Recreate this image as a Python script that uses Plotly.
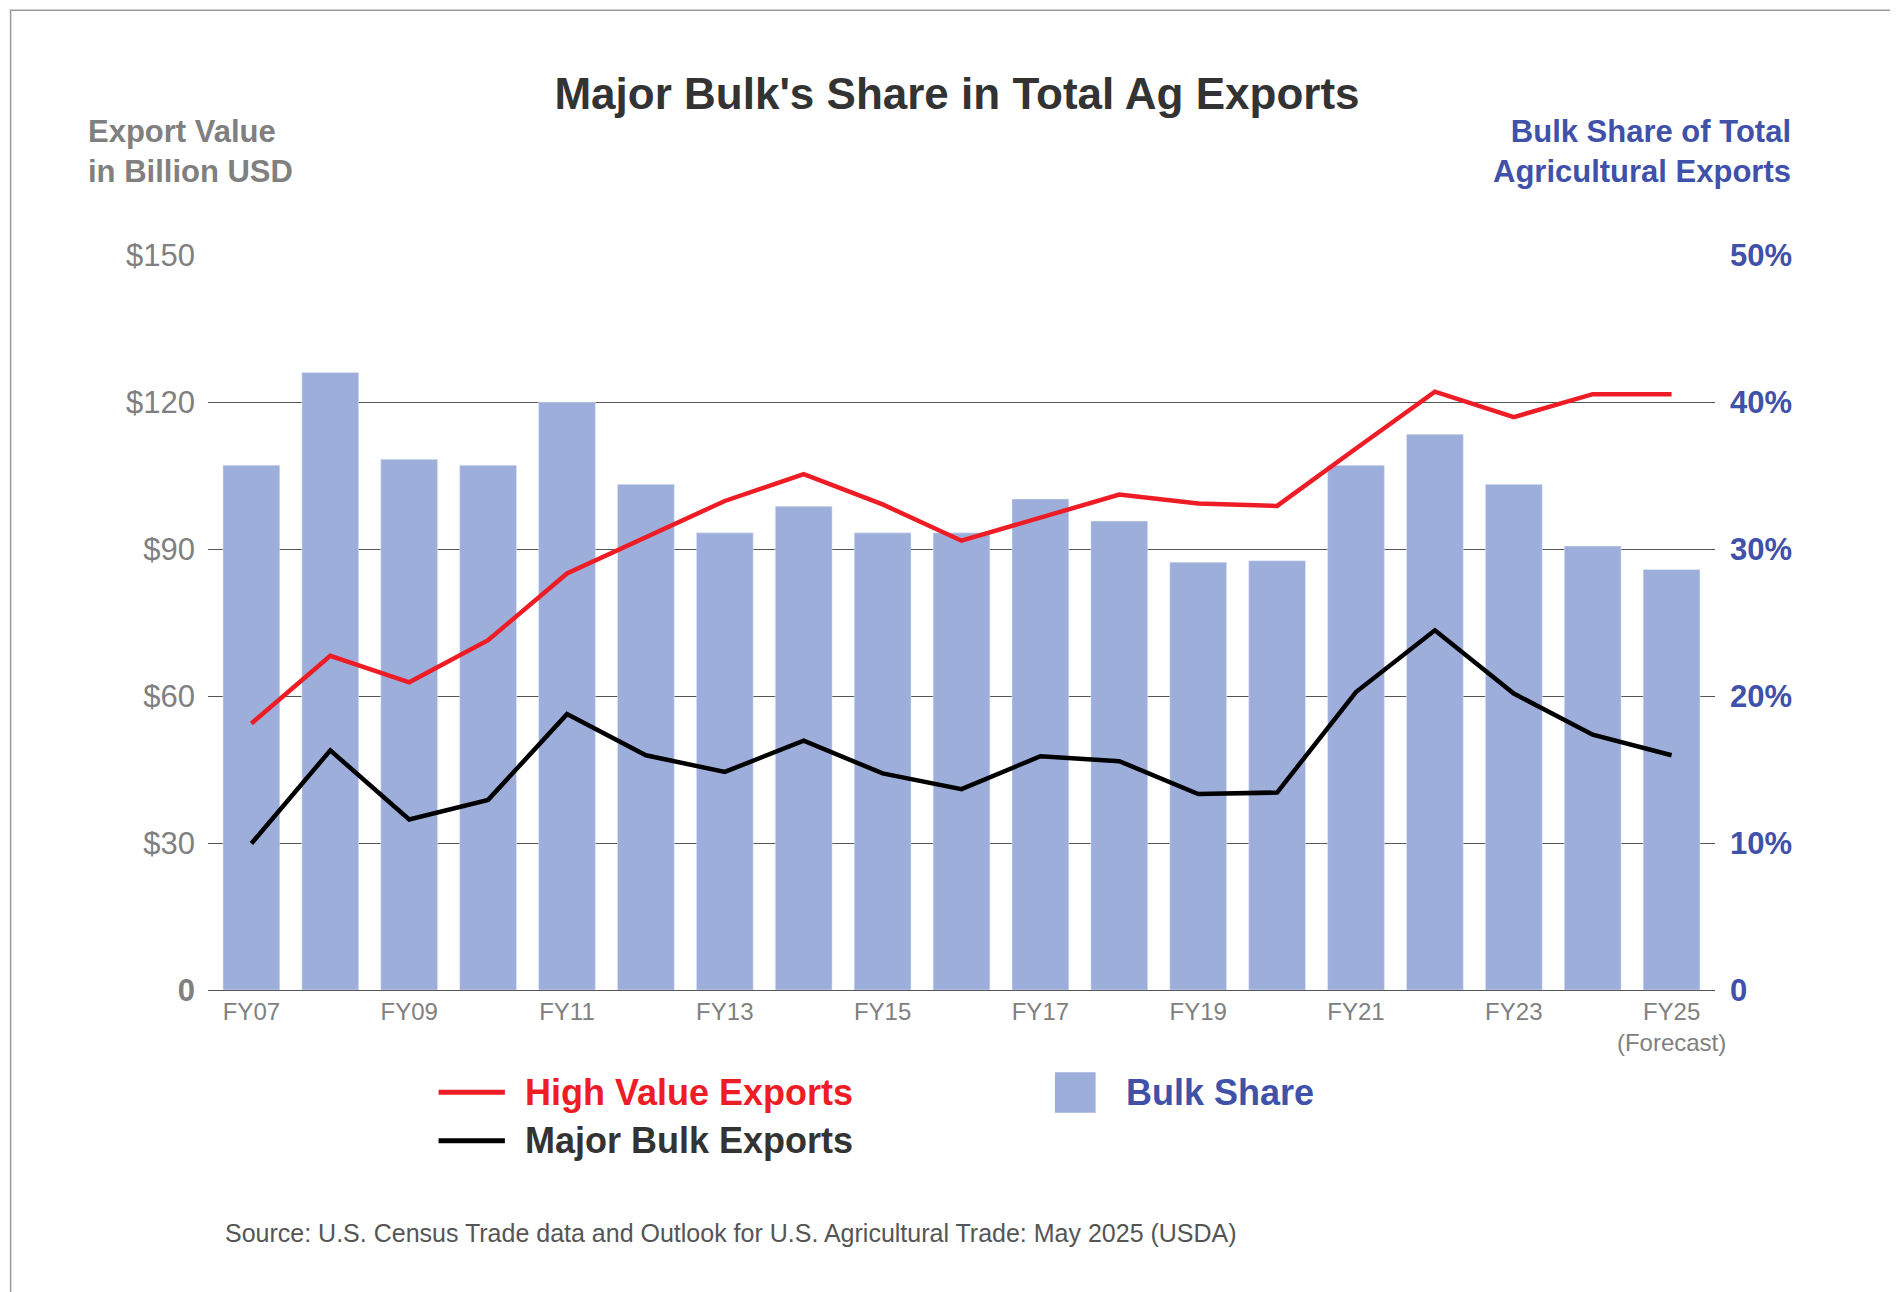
import plotly.graph_objects as go

years = ["FY07","FY08","FY09","FY10","FY11","FY12","FY13","FY14","FY15","FY16",
         "FY17","FY18","FY19","FY20","FY21","FY22","FY23","FY24","FY25"]
bulk_share = [35.7,42.0,36.1,35.7,40.0,34.4,31.1,32.9,31.1,31.1,33.4,31.9,29.1,29.2,35.7,37.8,34.4,30.2,28.6]
high_value = [54.4,68.2,62.8,71.4,85.0,92.4,99.8,105.3,99.1,91.7,96.4,101.1,99.3,98.8,110.5,122.1,116.9,121.6,121.6]
major_bulk = [29.9,48.9,34.8,38.8,56.3,47.9,44.5,50.9,44.2,41.0,47.7,46.7,40.0,40.3,60.8,73.4,60.5,52.1,47.9]
tick_years = ["FY07","FY09","FY11","FY13","FY15","FY17","FY19","FY21","FY23","FY25"]
tick_text = ["FY07","FY09","FY11","FY13","FY15","FY17","FY19","FY21","FY23","FY25<br>(Forecast)"]
left_ticks = [0,30,60,90,120,150]
left_text = ["<b>0</b>","$30","$60","$90","$120","$150"]
right_ticks = [0,10,20,30,40,50]
right_text = ["0","10%","20%","30%","40%","50%"]

F = "Liberation Sans, Arial, Helvetica, sans-serif"
BLUE = "#3F51A8"; GRAY = "#808080"; BAR = "#9DAEDA"; RED = "#EE1C25"

fig = go.Figure()
fig.add_trace(go.Bar(x=years, y=bulk_share, yaxis="y", marker_color=BAR, width=0.72, name="Bulk Share"))
fig.add_trace(go.Scatter(x=years, y=high_value, yaxis="y2", mode="lines", line=dict(color=RED, width=4.5), name="High Value Exports"))
fig.add_trace(go.Scatter(x=years, y=major_bulk, yaxis="y2", mode="lines", line=dict(color="black", width=4.5), name="Major Bulk Exports"))

fig.update_layout(
    width=1898, height=1292, paper_bgcolor="white", plot_bgcolor="white",
    margin=dict(l=200, r=191, t=247, b=310), showlegend=False, font=dict(family=F),
    title=dict(text="<b>Major Bulk's Share in Total Ag Exports</b>", x=0.5, xanchor="center",
               y=0.934, yanchor="middle", font=dict(size=44, color="#333333")),
    xaxis=dict(categoryorder="array", categoryarray=years, tickvals=tick_years, ticktext=tick_text,
               tickfont=dict(size=24, color=GRAY), showgrid=False, showline=True,
               linecolor="#555555", linewidth=1, ticks="", range=[-0.55, 18.55]),
    yaxis=dict(range=[0,50], side="right", tickvals=right_ticks,
               ticktext=["<b>%s</b>" % t for t in right_text], tickfont=dict(size=31, color=BLUE),
               showgrid=True, gridcolor="#555555", gridwidth=1, zeroline=False, ticks="", ticklabelstandoff=14),
    yaxis2=dict(range=[0,150], overlaying="y", side="left", tickvals=left_ticks, ticktext=left_text,
                tickfont=dict(size=31, color=GRAY), showgrid=False, zeroline=False, ticks="", ticklabelstandoff=12),
    bargap=0.28,
)
ann = [
    dict(text="<b>Export Value<br>in Billion USD</b>", x=-0.081, y=1.195, xanchor="left", yanchor="top",
         align="left", font=dict(size=31, color=GRAY)),
    dict(text="<b>Bulk Share of Total<br>Agricultural Exports</b>", x=1.052, y=1.195, xanchor="right",
         yanchor="top", align="right", font=dict(size=31, color=BLUE)),
    dict(text="<b>High Value Exports</b>", x=0.209, y=-0.139, xanchor="left", yanchor="middle",
         font=dict(size=36, color=RED)),
    dict(text="<b>Major Bulk Exports</b>", x=0.209, y=-0.205, xanchor="left", yanchor="middle",
         font=dict(size=36, color="#333333")),
    dict(text="<b>Bulk Share</b>", x=0.608, y=-0.139, xanchor="left", yanchor="middle",
         font=dict(size=36, color=BLUE)),
    dict(text="Source: U.S. Census Trade data and Outlook for U.S. Agricultural Trade: May 2025 (USDA)",
         x=0.01, y=-0.33, xanchor="left", yanchor="middle", font=dict(size=25, color="#555555")),
]
for a in ann:
    a.update(xref="paper", yref="paper", showarrow=False)
fig.update_layout(annotations=ann)
shapes = [
    dict(type="line", xref="paper", yref="paper", x0=0.153, x1=0.197, y0=-0.139, y1=-0.139, line=dict(color=RED, width=5)),
    dict(type="line", xref="paper", yref="paper", x0=0.153, x1=0.197, y0=-0.205, y1=-0.205, line=dict(color="black", width=5)),
    dict(type="rect", xref="paper", yref="paper", x0=0.562, x1=0.589, y0=-0.167, y1=-0.112, fillcolor=BAR, line=dict(width=0)),
    dict(type="rect", xref="paper", yref="paper", x0=-0.131, x1=1.124, y0=-0.419, y1=1.333, line=dict(color="#999999", width=1.5)),
]
fig.update_layout(shapes=shapes)
fig.write_html("out.html")
